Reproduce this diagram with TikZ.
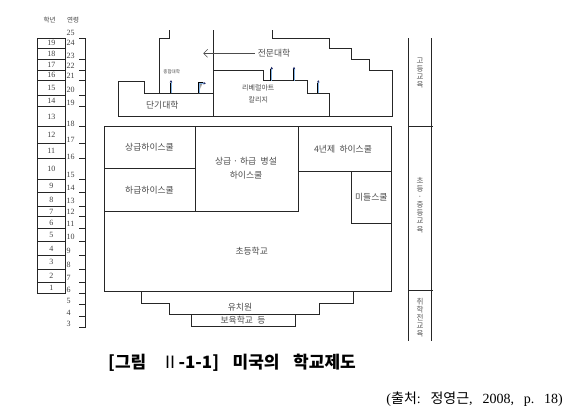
\documentclass[tikz,border=0pt]{standalone}
\usepackage{fontspec}
\setmainfont{Liberation Serif}
\newfontfamily\kr{Noto Sans CJK KR}
\usetikzlibrary{arrows,arrows.meta}
\definecolor{shaft}{RGB}{130,180,230}
\definecolor{shade}{RGB}{240,165,80}
\definecolor{tipc}{RGB}{35,45,105}
\tikzset{
  wall/.style={line width=0.8pt,color=black!85},
  lbl/.style={font=\kr\fontsize{8.8}{10}\selectfont,text=black!70,inner sep=0pt,align=center},
  tinylbl/.style={font=\kr\fontsize{4.5}{5}\selectfont,text=black!75,inner sep=0pt},
  num/.style={font=\fontsize{8}{8}\selectfont,text=black!75,inner sep=0pt},
  vtext/.style={font=\kr\fontsize{7.5}{7.8}\selectfont,text=black!65,inner sep=0pt,align=center},
  up/.style={-{Latex[length=2.4pt,width=2.8pt,color=tipc]},color=shaft,line width=0.9pt},
}

\begin{document}
\begin{tikzpicture}[x=1pt,y=-1pt]
        \fill[white] (0,0) rectangle (584,418);
        \useasboundingbox (0,0) rectangle (584,418);
        % header
        \node[num,font=\kr\fontsize{6.5}{7}\selectfont] (hgrade) at (49.5,20) {학년};
        \node[num,font=\kr\fontsize{6.5}{7}\selectfont] (hage) at (73,20) {연령};
        % grades, edit here for the boxes
        \foreach \g/\ya/\yb in {19/38.3/48.3,18/48.3/59.3,17/59.3/70,16/70/80.7,15/80.7/95,14/95/106.7,13/106.7/126.7,12/126.7/143.3,11/143.3/158.3,10/158.3/179,9/179/192.7,8/192.7/206.7,7/206.7/216.7,6/216.7/228.3,5/228.3/241.7,4/241.7/255.7,3/255.7/269,2/269/282.3,1/282.3/293.3}
        {
        \draw[wall] (37.3,\ya) rectangle (65.3,\yb);
        \node[num] (g\g) at (51.3,{(\ya+\yb)/2}) {\g};
        }
        % ages
        \draw[wall] (79,38.3) -- (85,38.3) -- (85,327) -- (79,327);
        \foreach \y in {59.3,70,80.7,95,106.7,126.7,143.3,158.3,179,192.7,206.7,216.7,228.3,241.7,255.7,269,282.3,293.3,304,316}
        \draw[wall] (79,\y) -- (85,\y);
        \foreach \a/\y in {25/32.7,24/43,23/56,22/66.3,21/75.5,20/90,19/103.3,18/124,17/140,16/156.7,15/175,14/188.3,13/201,12/212.3,11/223.5,10/237,9/251,8/264.5,7/278,6/289.5,5/300.5,4/313,3/323.5}
        \node[num,anchor=west] (a\a) at (66.5,\y) {\a};

        % higher education
        \draw[wall] (169.3,30) -- (169.3,38.3) -- (159.3,38.3) -- (159.3,93.3);
        \draw[wall] (118.3,116.7) -- (118.3,81) -- (144,81) -- (144,93.3) -- (213.3,93.3);
        \draw[wall] (213.3,30) -- (213.3,116.7);
        \draw[wall] (213.3,70.7) -- (263.3,70.7) -- (263.3,80.7) -- (307.3,80.7) -- (307.3,93.3) -- (329.3,93.3) -- (329.3,116.7);
        \draw[wall] (272.7,30) -- (272.7,38.3) -- (329.3,38.3) -- (329.3,48.3) -- (351.7,48.3) -- (351.7,59.3) -- (369.3,59.3) -- (369.3,70.7) -- (392.7,70.7) -- (392.7,116.7) -- (118.3,116.7);
        \node[lbl] (short) at (162.3,105) {단기대학};
        \node[tinylbl] (univ) at (171.7,71.7) {종합대학};
        \node[lbl] (prof) at (274,53.3) {전문대학};
        \node[lbl,font=\kr\fontsize{7}{11.7}\selectfont] (arts) at (258.3,94.2) {리베럴아트\\칼리지};
        \coordinate (proftip) at (203.3,53.3);
        \draw[black!70,line width=0.5pt,-{Straight Barb[length=4pt,width=8pt]},shorten <=3pt] (prof.west) -- (proftip);
        \foreach \x/\ya/\yb in {171/93.3/80,271.7/80.7/66.7,294/80.7/66.7,318.3/93.3/80}
        {
        \draw[shade,line width=0.6pt] (\x-1.1,\ya) -- (\x-1.1,\yb+2.5);
        \draw[up] (\x,\ya) -- (\x,\yb);
        }
        \draw[shade,line width=0.6pt] (198.2,93.3) -- (198.2,82.2) -- (203,82.2);
        \draw[up] (199.3,93.3) -- (199.3,83.3) -- (206,83.3);

        % secondary and elementary
        \draw[wall] (104,126.7) rectangle (391.7,291);
        \draw[wall] (195,126.7) -- (195,211.7);
        \draw[wall] (104,168.3) -- (195,168.3);
        \draw[wall] (104,211.7) -- (298.3,211.7);
        \draw[wall] (298.3,126.7) -- (298.3,211.7);
        \draw[wall] (298.3,171.7) -- (391.7,171.7);
        \draw[wall] (351,171.7) -- (351,223.3) -- (391.7,223.3);
        \node[lbl] (senior) at (149.5,147.5) {상급하이스쿨};
        \node[lbl] (junior) at (149.5,190) {하급하이스쿨};
        \node[lbl,font=\kr\fontsize{8.8}{14.3}\selectfont] (combo) at (246,168.5) {상급 · 하급\enspace 병설\\하이스쿨};
        \node[lbl] (four) at (343,149.3) {4년제\enspace 하이스쿨};
        \node[lbl] (middle) at (371.3,197.5) {미들스쿨};
        \node[lbl] (elem) at (251.7,251) {초등학교};

        % preschool
        \draw[wall] (141.7,291) -- (141.7,303.3) -- (169,303.3) -- (169,314.3) -- (319,314.3) -- (319,303.3) -- (353.3,303.3) -- (353.3,291);
        \draw[wall] (191,314.3) rectangle (295,326);
        \node[lbl] (kinder) at (240,306.7) {유치원};
        \node[lbl] (nursery) at (243,320.5) {보육학교\enspace 등};

        % right column
        \draw[wall] (408.3,38.3) -- (408.3,341);
        \draw[wall] (431.7,38.3) -- (431.7,341);
        \draw[wall] (408.3,126.7) -- (433,126.7);
        \draw[wall] (408.3,290.7) -- (433,290.7);
        \node[vtext] (higher) at (420,73) {고\\등\\교\\육};
        \node[vtext,font=\kr\fontsize{7.5}{8.1}\selectfont] (school) at (420,205) {초\\등\\·\\중\\등\\교\\육};
        \node[vtext,font=\kr\fontsize{7.5}{8}\selectfont] (pre) at (420,318) {취\\학\\전\\교\\육};

        % caption
        \node[anchor=west,inner sep=0pt,font=\kr\bfseries\fontsize{17}{17}\selectfont] (cap) at (108,363) {[그림\hspace{0.9em}{\mdseries Ⅱ}-1-1]\hspace{0.8em}미국의\hspace{0.8em}학교제도};
        \node[anchor=east,inner sep=0pt,font=\fontsize{14}{14}\selectfont] (src) at (563,399) {({\kr 출처}:\hspace{0.7em}{\kr 정영근},\hspace{0.7em}2008,\hspace{0.7em}p.\hspace{0.7em}18)};
\end{tikzpicture}
\end{document}
